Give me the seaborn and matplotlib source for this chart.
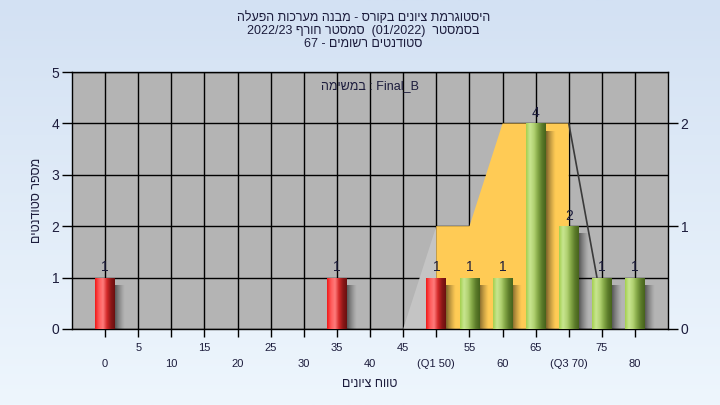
import re
import numpy as np
import pandas as pd
import seaborn as sns
import matplotlib.pyplot as plt
from matplotlib.colors import LinearSegmentedColormap
from matplotlib.patches import Polygon

# data
grades = [0, 5, 10, 15, 20, 25, 30, 35, 40, 45, 50, 55, 60, 65, 70, 75, 80]
counts = [1, 0, 0, 0, 0, 0, 0, 1, 0, 0, 1, 1, 1, 4, 2, 1, 1]
tick_labels = ["0", "5", "10", "15", "20", "25", "30", "35", "40", "45",
               "(Q1 50)", "55", "60", "65", "(Q3 70)", "75", "80"]
pass_grade = 55

# quartile band (left axis units, x in category index)
band_x = [10, 10, 11, 12, 14, 14]
band_y = [0, 2, 2, 4, 4, 0]
whisker_lo_x = [9, 10, 10]
whisker_lo_y = [0, 2, 0]
whisker_hi_x = [14, 14.85]
whisker_hi_y = [4, 1]

title_lines = ["היסטוגרמת ציונים בקורס - מבנה מערכות הפעלה",
               "בסמסטר  (01/2022)  סמסטר חורף 2022/23",
               "סטודנטים רשומים - 67"]
subtitle = "Final_B : במשימה"
xlabel = "טווח ציונים"
ylabel = "מספר סטודנטים"


def heb(s):
    """crude RTL -> visual order, matplotlib has no bidi"""
    toks = re.findall(r'[\u0590-\u05FF]+|[A-Za-z0-9_/.]+|[^\u0590-\u05FFA-Za-z0-9_/.]+', s)
    out = []
    for t in reversed(toks):
        if re.match(r'[A-Za-z0-9_/.]', t):
            out.append(t)
        else:
            out.append(t[::-1].translate(str.maketrans("()", ")(")))
    return "".join(out)


sns.set_style("white")
plt.rcParams['font.family'] = ['Liberation Sans', 'DejaVu Sans']
txt_col = '#1c1c3c'

fig = plt.figure(figsize=(7.2, 4.05), dpi=100)

# background gradient
bg = fig.add_axes([0, 0, 1, 1], zorder=-10)
grad = np.linspace(0, 1, 256).reshape(-1, 1)
bg.imshow(grad, aspect='auto', extent=[0, 1, 0, 1],
          cmap=LinearSegmentedColormap.from_list('bg', ['#d3e1f3', '#eef6fd']))
bg.axis('off')

ax = fig.add_axes([0.1, 0.188, 0.828, 0.634])
ax.set_facecolor('#b4b4b4')

df = pd.DataFrame({'grade': [str(g) for g in grades], 'count': counts,
                   'status': ['fail' if g < pass_grade else 'pass' for g in grades]})
sns.barplot(data=df, x='grade', y='count', hue='status', order=df['grade'],
            palette={'fail': '#e02020', 'pass': '#9cc848'}, dodge=False,
            legend=False, width=0.6, ax=ax, saturation=1)

red_cm = LinearSegmentedColormap.from_list('r', ['#f01818', '#ff5a5a', '#ff7c7c', '#d42a2a', '#8c1818', '#6a1010'])
green_cm = LinearSegmentedColormap.from_list('g', ['#a4d04e', '#c8e690', '#b2d272', '#84a846', '#5c7c2a', '#46621c'])
hgrad = np.linspace(0, 1, 128).reshape(1, -1)
shadow = np.zeros((1, 64, 4))
shadow[..., 3] = np.linspace(0.6, 0, 64) ** 1.3

for p in list(ax.patches):
    h = p.get_height()
    if h <= 0:
        p.set_visible(False)
        continue
    x0, w = p.get_x(), p.get_width()
    fail = p.get_facecolor()[0] > 0.8
    p.set_zorder(3)
    p.set_edgecolor('none')
    # soft shadow to the right
    ax.imshow(shadow, aspect='auto', extent=[x0 + w, x0 + w + 0.3, -0.03, h - 0.15],
              zorder=2.5, interpolation='bilinear')
    im = ax.imshow(hgrad, aspect='auto', extent=[x0, x0 + w, 0, h],
                   cmap=red_cm if fail else green_cm, zorder=3.1, interpolation='bilinear')
    im.set_clip_path(p)
    ax.text(x0 + w / 2, h + 0.06, str(int(h)), ha='center', va='bottom',
            fontsize=10, color=txt_col, zorder=5)

# quartile band and whiskers
ax.add_patch(Polygon(list(zip(whisker_lo_x, whisker_lo_y)), closed=True,
                     facecolor='#c4c4c4', edgecolor='none', zorder=1))
ax.add_patch(Polygon(list(zip(band_x, band_y)), closed=True,
                     facecolor='#ffcb55', edgecolor='none', zorder=1.2))
ax.plot(whisker_hi_x, whisker_hi_y, color='#3a3a3a', lw=1.2, zorder=1.3)

ax.set_xlim(-1, 17)
ax.set_ylim(0, 5)
ax.set_yticks(range(6))
ax.set_xticks(range(len(grades)))
ax.set_xticklabels([lab if i % 2 else "\n" + lab for i, lab in enumerate(tick_labels)],
                   fontsize=8, color=txt_col)
for t in ax.get_xticklabels():
    t.set_linespacing(1.75)
ax.set_axisbelow(True)
ax.grid(True, color='black', lw=1)
for s in ax.spines.values():
    s.set_color('black')
    s.set_linewidth(1)
ax.tick_params(axis='y', direction='out', length=7, width=1, labelsize=10,
               colors='black', labelcolor=txt_col, left=True, pad=2)
ax.tick_params(axis='x', direction='out', length=6, width=1, colors='black',
               labelcolor=txt_col, bottom=True, pad=4)
ax.set_xlabel(heb(xlabel), fontsize=9, color=txt_col, labelpad=7)
ax.set_ylabel(heb(ylabel), fontsize=9, color=txt_col, labelpad=6)

ax2 = ax.twinx()
ax2.set_ylim(0, 2.5)
ax2.set_yticks([0, 1, 2])
ax2.tick_params(axis='y', direction='out', length=7, width=1, labelsize=10,
                colors='black', labelcolor=txt_col, right=True, pad=2)
for s in ax2.spines.values():
    s.set_visible(False)

ax.text(0.5, 0.945, heb(subtitle), transform=ax.transAxes, ha='center',
        va='center', fontsize=9, color=txt_col, zorder=6)

for i, line in enumerate(title_lines):
    fig.text(0.505, 0.956 - i * 0.032, heb(line), ha='center', va='center',
             fontsize=9, color=txt_col)

fig.savefig('out.png', dpi=100)
